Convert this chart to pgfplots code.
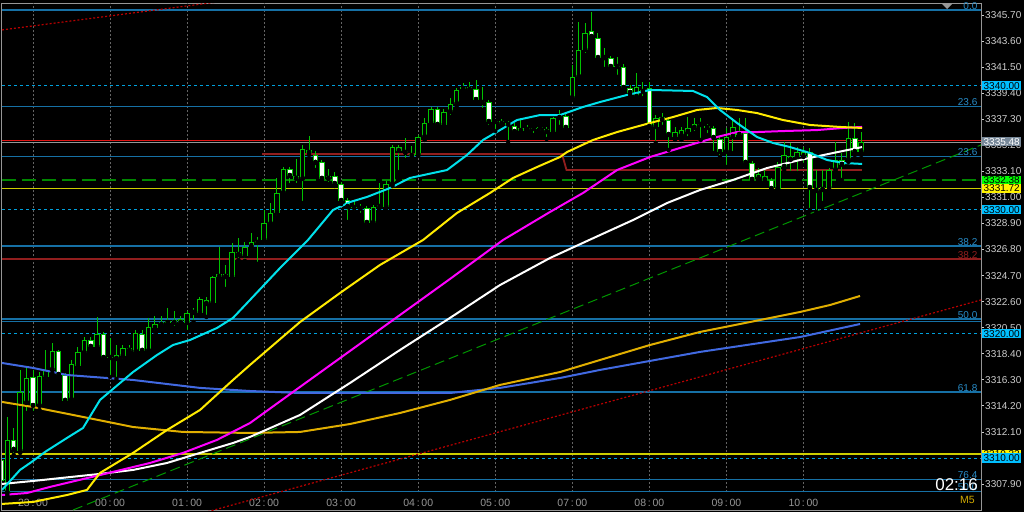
\documentclass[border=0pt]{standalone}
\usepackage{pgfplots}
\pgfplotsset{compat=1.18}
\usepackage{pgfplotstable}
\usepackage{fontspec}
\setmainfont{Liberation Sans}
\definecolor{cgreen}{RGB}{0,195,0}
\definecolor{fibblue}{RGB}{22,112,165}
\definecolor{fiblabel}{RGB}{40,140,200}
\definecolor{dotblue}{RGB}{0,160,220}
\definecolor{mred}{RGB}{225,20,20}
\definecolor{dred}{RGB}{145,30,30}
\definecolor{hgreen}{RGB}{0,135,0}
\definecolor{trgreen}{RGB}{0,150,0}
\definecolor{hyellow}{RGB}{205,205,0}
\definecolor{macyan}{RGB}{0,225,235}
\definecolor{mayellow}{RGB}{255,235,0}
\definecolor{mamag}{RGB}{255,0,255}
\definecolor{magold}{RGB}{225,175,0}
\definecolor{mablue}{RGB}{65,105,225}
\definecolor{tred}{RGB}{185,0,0}
\definecolor{gridgrey}{RGB}{100,100,100}
\definecolor{labgrey}{RGB}{205,205,205}
\definecolor{timegrey}{RGB}{150,150,150}
\definecolor{framegrey}{RGB}{150,150,150}
\definecolor{skyb}{RGB}{0,191,255}
\definecolor{bidgrey}{RGB}{119,136,153}
\definecolor{m5gold}{RGB}{210,170,0}

\pgfplotstableread{
i O H L C
-5 3309.84 3310.49 3307.26 3308.15
-4 3307.18 3313.31 3307.02 3311.45
-3 3311.45 3312.42 3310.25 3310.65
-2 3310.57 3317.10 3310.41 3315.32
-1 3314.44 3317.34 3313.63 3316.45
0 3316.53 3317.10 3313.63 3314.19
1 3314.19 3316.93 3313.87 3316.61
2 3316.53 3318.71 3316.29 3317.10
3 3317.10 3319.27 3316.85 3318.63
4 3318.63 3318.71 3316.45 3316.69
5 3316.69 3316.85 3314.28 3314.60
6 3314.68 3317.90 3314.52 3317.58
7 3317.42 3318.95 3317.10 3318.55
8 3318.47 3319.75 3318.30 3319.51
9 3319.51 3319.75 3318.79 3318.95
10 3318.95 3321.37 3318.71 3319.99
11 3319.99 3320.16 3317.90 3318.06
12 3318.06 3319.67 3316.53 3318.14
13 3317.98 3319.11 3316.37 3318.30
14 3318.22 3319.11 3317.90 3318.87
15 3318.87 3319.11 3318.47 3318.63
16 3318.55 3320.32 3318.30 3320.08
17 3319.99 3320.32 3318.47 3318.63
18 3318.63 3321.29 3318.47 3320.56
19 3320.48 3321.45 3320.16 3320.80
20 3320.72 3321.45 3320.56 3320.96
21 3321.04 3322.09 3320.72 3320.88
22 3320.88 3321.85 3320.48 3321.12
23 3321.20 3321.45 3320.64 3320.88
24 3320.88 3321.85 3320.16 3321.69
25 3321.69 3322.09 3320.96 3321.77
26 3321.69 3322.98 3321.45 3322.82
27 3322.74 3322.98 3321.37 3322.41
28 3322.49 3324.67 3322.17 3324.59
29 3324.59 3327.01 3324.51 3324.83
30 3324.83 3325.56 3323.62 3324.59
31 3324.59 3327.33 3324.43 3326.60
32 3326.60 3327.73 3325.96 3326.36
33 3326.28 3327.41 3325.88 3327.01
34 3327.01 3328.14 3326.68 3327.41
35 3327.33 3327.81 3325.64 3327.49
36 3327.57 3329.99 3327.41 3328.94
37 3328.86 3330.55 3328.54 3329.75
38 3329.75 3332.57 3329.42 3331.36
39 3331.36 3333.45 3331.20 3333.29
40 3333.29 3333.45 3332.00 3332.73
41 3332.73 3334.10 3332.00 3332.49
42 3332.49 3335.23 3330.55 3334.90
43 3334.82 3335.95 3334.42 3334.58
44 3334.42 3334.74 3333.21 3333.78
45 3333.86 3334.02 3332.41 3332.49
46 3332.49 3333.29 3332.08 3332.73
47 3332.73 3333.05 3331.92 3332.08
48 3332.08 3332.24 3330.47 3330.71
49 3330.79 3330.95 3329.02 3330.23
50 3330.23 3330.79 3329.83 3330.15
51 3330.07 3330.47 3329.59 3330.23
52 3330.15 3330.31 3328.62 3328.94
53 3328.94 3330.39 3328.62 3330.23
54 3330.23 3332.16 3330.15 3330.39
55 3330.23 3332.33 3330.07 3332.08
56 3332.08 3335.23 3331.92 3335.06
57 3335.06 3335.23 3333.05 3334.74
58 3334.74 3335.79 3334.02 3334.58
59 3334.34 3335.15 3334.02 3334.50
60 3334.42 3336.03 3334.34 3335.87
61 3335.87 3337.40 3335.63 3337.00
62 3337.00 3338.29 3336.76 3338.13
63 3338.13 3338.29 3336.60 3336.84
64 3336.84 3338.13 3336.68 3337.89
65 3337.89 3339.01 3337.48 3338.53
66 3338.53 3339.82 3338.37 3339.66
67 3339.74 3340.22 3339.58 3339.90
68 3339.90 3340.30 3339.42 3339.66
69 3339.74 3340.46 3338.77 3338.85
70 3338.77 3339.90 3338.05 3338.61
71 3338.69 3338.85 3336.68 3337.08
72 3337.08 3337.32 3336.35 3337.16
73 3337.16 3337.32 3336.84 3336.92
74 3336.99 3337.16 3335.47 3336.84
75 3336.76 3337.00 3336.19 3336.27
76 3336.35 3337.40 3336.27 3336.60
77 3336.60 3336.84 3336.19 3336.43
78 3336.52 3336.68 3336.03 3336.60
79 3336.60 3336.84 3336.27 3336.68
80 3336.52 3336.68 3335.71 3336.27
81 3336.27 3337.48 3336.11 3337.40
82 3337.40 3338.05 3336.68 3337.56
83 3337.56 3337.72 3336.52 3336.60
84 3339.01 3341.67 3338.85 3340.71
85 3340.71 3345.14 3340.63 3342.88
86 3342.88 3345.06 3342.48 3344.25
87 3344.41 3345.94 3343.85 3343.93
88 3343.85 3344.25 3342.07 3342.23
89 3342.23 3343.04 3341.35 3342.31
90 3342.23 3342.40 3341.27 3341.51
91 3341.51 3342.31 3340.71 3341.59
92 3341.51 3341.75 3339.66 3339.82
93 3339.82 3340.06 3339.26 3339.42
94 3339.09 3341.03 3339.01 3339.90
95 3339.50 3340.30 3339.01 3339.66
96 3339.82 3340.30 3336.60 3336.68
97 3336.68 3337.64 3335.39 3337.40
98 3337.24 3337.80 3336.68 3337.48
99 3337.24 3337.40 3334.82 3336.03
100 3335.87 3336.68 3335.63 3336.27
101 3335.95 3336.68 3335.63 3336.43
102 3336.27 3337.48 3335.79 3336.60
103 3336.60 3337.40 3336.19 3336.92
104 3336.84 3337.40 3335.63 3336.92
105 3336.76 3336.92 3336.03 3336.60
106 3336.60 3336.76 3334.58 3335.79
107 3335.71 3335.87 3334.26 3334.66
108 3334.66 3336.60 3333.45 3335.87
109 3335.87 3337.40 3334.58 3336.68
110 3336.27 3337.40 3335.87 3336.03
111 3336.19 3337.40 3333.62 3333.78
112 3333.78 3333.94 3332.24 3332.41
113 3332.49 3333.37 3332.24 3332.89
114 3332.73 3333.21 3332.24 3332.41
115 3332.41 3332.57 3331.60 3331.68
116 3331.68 3333.86 3331.60 3333.45
117 3333.45 3335.47 3333.21 3334.42
118 3334.34 3335.39 3332.97 3334.02
119 3334.26 3335.06 3332.97 3334.66
120 3334.26 3335.06 3333.62 3334.66
121 3334.66 3334.98 3329.99 3331.76
122 3331.76 3333.21 3329.83 3331.52
123 3331.60 3333.21 3330.55 3331.84
124 3331.76 3333.37 3331.60 3333.21
125 3333.21 3335.47 3333.05 3334.02
126 3334.02 3334.58 3332.41 3333.62
127 3334.02 3337.08 3333.86 3335.79
128 3335.79 3337.00 3334.42 3334.66
129 3334.66 3336.27 3334.42 3335.48
}\candles

\pgfplotsset{
  mtaxis/.style={
    at={(2pt,2pt)}, anchor=south west,
    scale only axis, width=979pt, height=507pt,
    xmin=-4.83, xmax=147.66, ymin=3305.81, ymax=3346.67,
  },
  hline/.style={line width=1.3pt, fibblue, forget plot},
  dotline/.style={line width=1pt, dotblue, dash pattern=on 3pt off 3pt, forget plot},
}
\tikzset{
  fiblab/.style={anchor=south east, inner sep=0.5pt, font=\fontsize{10}{11}\selectfont},
  pbox/.style={anchor=west, xshift=1pt, inner sep=1pt, minimum width=39pt, font=\fontsize{10}{11}\selectfont},
}

\begin{document}
\begin{tikzpicture}
\path[use as bounding box, fill=black] (0,0) rectangle (1024pt,512pt);
\begin{axis}[mtaxis,
  axis line style={draw=framegrey, line width=1pt},
  xtick={0,12,24,36,48,60,72,84,96,108,120},
  xticklabels={23\,:\,00,00\,:\,00,01\,:\,00,02\,:\,00,03\,:\,00,04\,:\,00,05\,:\,00,07\,:\,00,08\,:\,00,09\,:\,00,10\,:\,00},
  xtick pos=bottom,
  xtick style={draw=none},
  xticklabel style={anchor=center, yshift=10pt, color=timegrey, font=\fontsize{10.5}{12}\selectfont},
  ytick={3307.9,3310.0,3312.1,3314.2,3316.3,3318.4,3320.5,3322.6,3324.7,3326.8,3328.9,3331.0,3333.1,3335.2,3337.3,3339.4,3341.5,3343.6,3345.7},
  ytick pos=right, yticklabel pos=right,
  tick align=outside, major tick length=3pt,
  ytick style={draw=labgrey, line width=0.8pt},
  scaled y ticks=false,
  /pgf/number format/assume math mode=true,
  yticklabel style={anchor=west, inner sep=1pt, color=labgrey, font=\fontsize{10}{11}\selectfont,
    /pgf/number format/.cd, fixed, fixed zerofill, precision=2, 1000 sep={}},
]
% time grid
\pgfplotsinvokeforeach{0,12,24,36,48,60,72,84,96,108,120}{
  \addplot[gridgrey, line width=1pt, dash pattern=on 2pt off 2pt, forget plot] coordinates {(#1,3307.24) (#1,3346.67)};
}
% horizontal lines
\addplot[hline] coordinates {(-4.83,3346.10) (147.66,3346.10)};
\addplot[dotline] coordinates {(-4.83,3340.00) (147.66,3340.00)};
\addplot[hline] coordinates {(-4.83,3338.33) (147.66,3338.33)};
\addplot[framegrey, line width=0.8pt, forget plot] coordinates {(-4.83,3335.44) (147.66,3335.44)};
\addplot[mred, line width=1.3pt, forget plot] coordinates {(-4.83,3335.57) (147.66,3335.57)};
\addplot[hline] coordinates {(-4.83,3334.31) (147.66,3334.31)};
\addplot[dred, line width=1.8pt, forget plot] coordinates {(35.7,3334.50) (82.4,3334.50) (83.1,3333.21) (129.1,3333.21)};
\addplot[hgreen, line width=1.8pt, dash pattern=on 14pt off 6pt, forget plot] coordinates {(-4.83,3332.38) (147.66,3332.38)};
\addplot[hyellow, line width=1.1pt, forget plot] coordinates {(-4.83,3331.72) (147.66,3331.72)};
\addplot[dotline] coordinates {(-4.83,3330.00) (147.66,3330.00)};
\addplot[hline] coordinates {(-4.83,3327.09) (147.66,3327.09)};
\addplot[dred, line width=1.1pt, forget plot] coordinates {(-4.83,3326.04) (147.66,3326.04)};
\addplot[hline] coordinates {(-4.83,3321.20) (147.66,3321.20)};
\addplot[hline] coordinates {(-4.83,3321.02) (147.66,3321.02)};
\addplot[dotline] coordinates {(-4.83,3320.00) (147.66,3320.00)};
\addplot[hline] coordinates {(-4.83,3315.32) (147.66,3315.32)};
\addplot[hyellow, line width=1.1pt, forget plot] coordinates {(-4.83,3310.32) (147.66,3310.32)};
\addplot[dotline] coordinates {(-4.83,3310.00) (147.66,3310.00)};
\addplot[hline] coordinates {(-4.83,3308.28) (147.66,3308.28)};
\addplot[hline] coordinates {(-4.83,3307.31) (147.66,3307.31)};
% trend lines
\addplot[tred, line width=1.2pt, dash pattern=on 2pt off 2pt, forget plot] coordinates {(-4.83,3344.50) (35.4,3347.20)};
\addplot[tred, line width=1.2pt, dash pattern=on 2pt off 2pt, forget plot] coordinates {(26.0,3305.50) (147.66,3322.74)};
\addplot[trgreen, line width=1pt, dash pattern=on 10pt off 5pt, forget plot] coordinates {(6.23,3305.81) (147.66,3335.23)};
% candles: wicks
\addplot[only marks, mark=none, forget plot,
  error bars/.cd, y dir=plus, y explicit, error mark=none,
  error bar style={draw=cgreen, line width=1pt, solid}]
  table[x=i, y=L, y error plus expr={\thisrow{H}-\thisrow{L}}] {\candles};
% candle bodies (outline)
\addplot[only marks, mark=none, forget plot,
  error bars/.cd, y dir=plus, y explicit, error mark=none,
  error bar style={draw=cgreen, line width=5.5pt, solid}]
  table[x=i, y expr={min(\thisrow{O},\thisrow{C})}, y error plus expr={max(abs(\thisrow{C}-\thisrow{O}),0.08)}] {\candles};
% bull bodies (hollow)
\addplot[only marks, mark=none, forget plot,
  error bars/.cd, y dir=plus, y explicit, error mark=none,
  error bar style={draw=black, line width=3.5pt, solid}]
  table[x=i, y expr={min(\thisrow{O},\thisrow{C})+0.08}, y error plus expr={max(\thisrow{C}-\thisrow{O}-0.16,0)}] {\candles};
% bear bodies (white)
\addplot[only marks, mark=none, forget plot,
  error bars/.cd, y dir=plus, y explicit, error mark=none,
  error bar style={draw=white, line width=3.5pt, solid}]
  table[x=i, y expr={min(\thisrow{O},\thisrow{C})+0.08}, y error plus expr={max(\thisrow{O}-\thisrow{C}-0.16,0)}] {\candles};
% moving averages
\addplot[mablue, line width=2pt, line join=round] coordinates {(-4.83,3317.66) (0,3317.26) (5.30,3316.69) (15.58,3316.29) (26.01,3315.65) (33.80,3315.40) (41.59,3315.24) (54.05,3315.24) (64.95,3315.24) (72.74,3315.65) (82.09,3316.45) (88.32,3317.10) (103.89,3318.55) (119.47,3319.75) (128.82,3320.80)};
\addplot[magold, line width=2pt, line join=round] coordinates {(-4.83,3314.52) (0,3314.11) (7.79,3313.31) (15.58,3312.50) (23.36,3312.10) (33.80,3312.02) (41.59,3312.10) (49.38,3312.74) (57.17,3313.63) (64.95,3314.68) (72.74,3315.89) (82.09,3316.93) (88.32,3317.90) (96.11,3319.11) (103.89,3320.16) (111.68,3320.96) (119.47,3321.77) (124.14,3322.33) (128.82,3323.06)};
\addplot[white, line width=2pt, line join=round] coordinates {(-4.83,3307.91) (0,3308.15) (10.44,3308.72) (15.58,3309.04) (20.87,3309.60) (26.01,3310.41) (31.15,3311.21) (33.80,3311.70) (41.59,3313.47) (49.38,3316.05) (57.17,3318.71) (64.95,3321.29) (72.74,3323.94) (80.53,3326.12) (88.32,3327.97) (93.46,3329.18) (98.75,3330.55) (103.89,3331.60) (109.03,3332.41) (114.33,3333.37) (119.47,3334.02) (124.61,3334.58) (129.13,3335.06)};
\addplot[mamag, line width=2pt, line join=round] coordinates {(-4.83,3307.02) (-0.93,3307.18) (2.65,3307.67) (10.44,3308.63) (18.22,3309.60) (23.36,3310.41) (28.66,3311.46) (33.80,3312.82) (41.59,3315.73) (49.38,3318.63) (57.17,3321.53) (64.95,3324.43) (73.21,3327.57) (80.53,3329.83) (85.67,3331.36) (90.97,3333.21) (96.11,3334.26) (101.25,3335.06) (106.54,3335.87) (109.66,3336.27) (112.77,3336.27) (116.82,3336.35) (122.12,3336.43) (126.17,3336.60) (129.13,3336.68)};
\addplot[mayellow, line width=2pt, line join=round] coordinates {(-4.83,3306.30) (0,3306.46) (5.30,3307.02) (8.41,3307.43) (10.44,3308.80) (15.58,3310.41) (20.87,3312.26) (26.01,3313.87) (31.15,3316.29) (33.80,3317.50) (41.59,3320.96) (47.82,3323.30) (54.05,3325.56) (60.75,3327.57) (66.04,3329.75) (71.18,3331.36) (74.77,3332.57) (78.50,3333.45) (82.09,3334.26) (83.18,3334.66) (87.23,3335.63) (90.97,3336.27) (96.11,3337.00) (99.69,3337.48) (103.43,3338.05) (106.54,3338.21) (109.66,3338.05) (112.77,3337.80) (116.82,3337.24) (121.03,3336.84) (125.70,3336.68) (129.13,3336.60)};
\addplot[macyan, line width=2pt, line join=round] coordinates {(-4.83,3307.43) (-2.02,3309.04) (0,3309.76) (1.87,3310.49) (5.30,3311.62) (7.79,3312.42) (10.44,3314.68) (15.58,3316.93) (19.31,3318.30) (21.81,3319.11) (24.45,3319.51) (28.66,3320.48) (31.15,3321.29) (33.80,3322.74) (38.47,3325.31) (42.83,3327.57) (46.73,3329.99) (49.38,3330.63) (52.02,3331.04) (55.61,3331.76) (58.72,3332.57) (62.31,3332.97) (64.49,3333.21) (67.60,3334.42) (70.09,3335.63) (72.74,3336.43) (75.39,3337.24) (78.97,3337.64) (82.09,3337.64) (85.67,3338.29) (88.32,3338.69) (92.52,3339.26) (96.11,3339.66) (102.80,3339.58) (104.98,3339.09) (107.01,3338.05) (109.66,3337.00) (112.77,3335.87) (115.26,3335.39) (117.91,3335.06) (121.03,3334.58) (123.68,3334.02) (126.17,3333.78) (129.13,3333.70)};
\end{axis}

\begin{axis}[mtaxis, hide axis, clip=false]
% fibo labels
\node[fiblab, text=fiblabel] at (axis cs:147.2,3346.10) {0.0};
\node[fiblab, text=fiblabel] at (axis cs:147.2,3338.33) {23.6};
\node[fiblab, text=fiblabel] at (axis cs:147.2,3334.31) {23.6};
\node[fiblab, text=fiblabel] at (axis cs:147.2,3327.09) {38.2};
\node[fiblab, text=dred] at (axis cs:147.2,3326.04) {38.2};
\node[fiblab, text=fiblabel] at (axis cs:147.2,3321.20) {50.0};
\node[fiblab, text=fiblabel] at (axis cs:147.2,3315.32) {61.8};
\node[fiblab, text=fiblabel] at (axis cs:147.2,3308.28) {76.4};
\node[fiblab, text=fiblabel] at (axis cs:147.2,3307.31) {50.0};
% price boxes
\node[pbox, fill=skyb, text=black] at (axis cs:147.66,3340.00) {3340.00};
\node[pbox, fill=bidgrey, text=white] at (axis cs:147.66,3335.48) {3335.48};
\node[pbox, fill=green, text=black] at (axis cs:147.66,3332.38) {3332.38};
\node[pbox, fill=yellow, text=black] at (axis cs:147.66,3331.72) {3331.72};
\node[pbox, fill=skyb, text=black] at (axis cs:147.66,3330.00) {3330.00};
\node[pbox, fill=skyb, text=black] at (axis cs:147.66,3320.00) {3320.00};
\node[pbox, fill=yellow, text=black] at (axis cs:147.66,3310.32) {3310.32};
\node[pbox, fill=skyb, text=black] at (axis cs:147.66,3310.00) {3310.00};
% clock and timeframe
\node[anchor=east, inner sep=0pt, text=white, font=\fontsize{17}{18}\selectfont] at (axis cs:147.2,3307.83) {02:16};
\node[anchor=east, inner sep=0pt, text=m5gold, font=\fontsize{10.5}{11}\selectfont] at (axis cs:146.7,3306.62) {M5};
\end{axis}
\fill[framegrey] (942pt,508pt) -- (952pt,508pt) -- (947pt,503pt) -- cycle;
\end{tikzpicture}
\end{document}
